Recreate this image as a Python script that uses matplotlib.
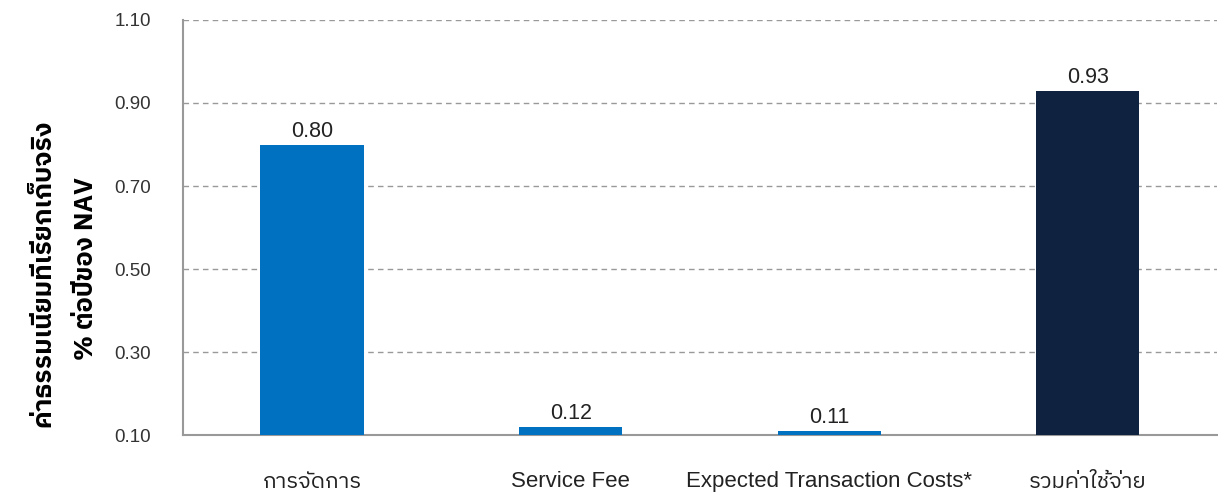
import matplotlib
matplotlib.use("Agg")
import matplotlib.pyplot as plt
from matplotlib import font_manager

categories = ["การจัดการ", "Service Fee", "Expected Transaction Costs*", "รวมค่าใช้จ่าย"]
values = [0.80, 0.12, 0.11, 0.93]
colors = ["#0070C0", "#0070C0", "#0070C0", "#0F2340"]
yticks = [0.10, 0.30, 0.50, 0.70, 0.90, 1.10]
ylabel_lines = ["ค่าธรรมเนียมที่เรียกเก็บจริง", "% ต่อปีของ NAV"]

names = sorted({f.name for f in font_manager.fontManager.ttflist})
thai = [n for n in names if "Thai" in n or "Garuda" in n or "Loma" in n or "Sarabun" in n]
latin_first = ["Liberation Sans"] + thai + ["DejaVu Sans"]
thai_first = thai + ["Liberation Sans", "DejaVu Sans"]
plt.rcParams['font.family'] = latin_first

fig = plt.figure(figsize=(12.18, 4.95), dpi=100)
ax = fig.add_axes([0.1502, 0.1212, 0.849, 0.8384])
base = 0.10
x = list(range(len(categories)))
ax.bar(x, [v - base for v in values], bottom=base, width=0.4, color=colors, zorder=3)
for xi, v in zip(x, values):
    ax.text(xi, v + 0.007, f"{v:.2f}", ha="center", va="bottom", fontsize=15.5, color="#222222")
ax.set_xlim(-0.5, 3.5)
ax.set_ylim(0.10, 1.10)
ax.set_yticks(yticks)
ax.set_yticklabels([f"{t:.2f}" for t in yticks], fontsize=13.5, color="#333333")
ax.set_xticks(x)
ax.set_xticklabels(categories, fontsize=16, color="#222222")
for lbl, c in zip(ax.get_xticklabels(), categories):
    if any('\u0e00' <= ch <= '\u0e7f' for ch in c):
        lbl.set_family(thai_first)
ax.tick_params(axis="both", length=0)
ax.tick_params(axis="x", pad=26)
ax.tick_params(axis="y", pad=23)
ax.yaxis.grid(True, linestyle=(0, (4, 3)), color="#999999", linewidth=1, zorder=0)
for s in ["top", "right"]:
    ax.spines[s].set_visible(False)
for s in ["left", "bottom"]:
    ax.spines[s].set_color("#999999")
    ax.spines[s].set_linewidth(1.5)
fig.text(0.036, 0.448, ylabel_lines[0], rotation=90, ha="center", va="center",
         fontsize=19, fontweight="bold", family=thai_first)
fig.text(0.071, 0.457, ylabel_lines[1], rotation=90, ha="center", va="center",
         fontsize=18.5, fontweight="bold", family=thai_first)
fig.savefig("out.png", dpi=100)
